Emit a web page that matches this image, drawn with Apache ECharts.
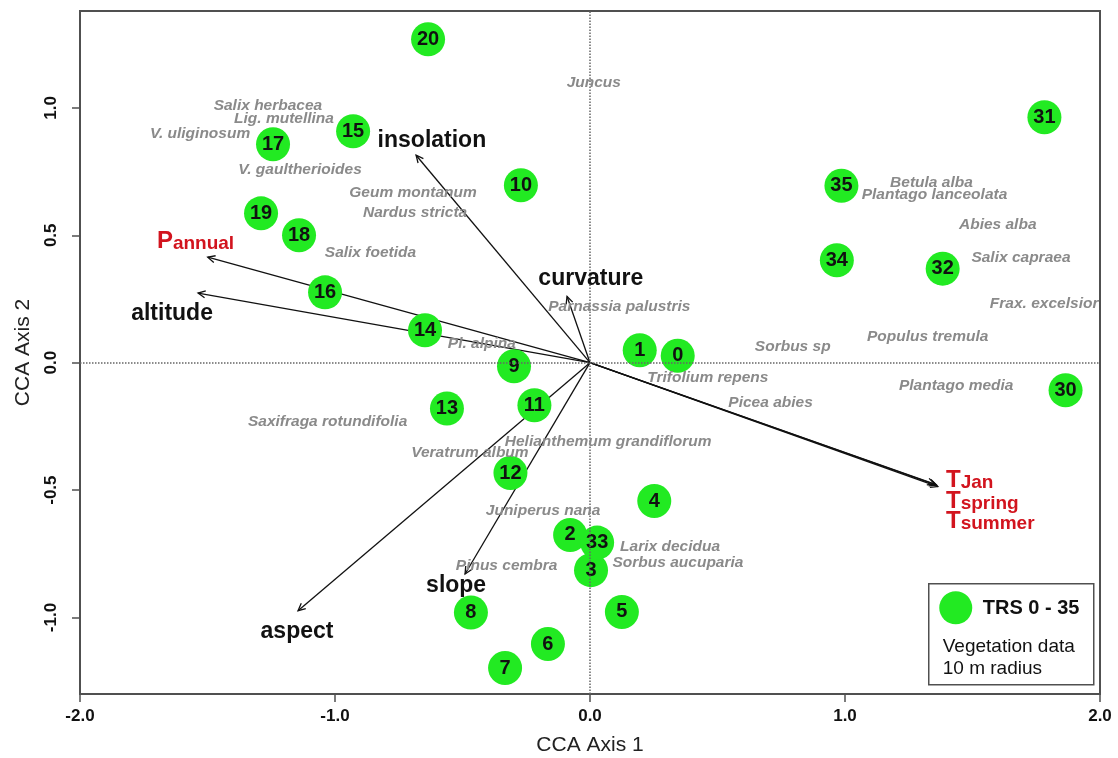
<!DOCTYPE html>
<html>
<head>
<meta charset="utf-8">
<script src="https://cdn.jsdelivr.net/npm/echarts@6/dist/echarts.min.js"></script>
<style>
  html, body { margin: 0; padding: 0; background: #fff; }
  #chart { width: 1118px; height: 758px; }
</style>
</head>
<body>
<div id="chart"></div>
<script>
// Site scores (TRS plots) on CCA axes 1 and 2
const siteIds = ['0','1','2','3','4','5','6','7','8','9','10','11','12','13','14','15','16','17','18','19','20','30','31','32','33','34','35'];
const siteAxis1 = [0.344, 0.195, -0.078, 0.004, 0.252, 0.125, -0.165, -0.333, -0.467, -0.298, -0.271, -0.218, -0.312, -0.561, -0.647, -0.929, -1.039, -1.243, -1.141, -1.290, -0.635, 1.865, 1.782, 1.383, 0.028, 0.968, 0.986];
const siteAxis2 = [0.027, 0.049, -0.676, -0.814, -0.543, -0.978, -1.104, -1.198, -0.980, -0.014, 0.696, -0.167, -0.433, -0.180, 0.127, 0.908, 0.276, 0.857, 0.500, 0.586, 1.269, -0.108, 0.963, 0.369, -0.706, 0.402, 0.694];

// Species scores
const speciesNames = ['Juncus', 'Salix herbacea', 'Lig. mutellina', 'V. uliginosum', 'V. gaultherioides', 'Geum montanum', 'Nardus stricta', 'Salix foetida', 'Parnassia palustris', 'Pl. alpina', 'Trifolium repens', 'Sorbus sp', 'Populus tremula', 'Plantago media', 'Picea abies', 'Saxifraga rotundifolia', 'Helianthemum grandiflorum', 'Veratrum album', 'Juniperus nana', 'Larix decidua', 'Sorbus aucuparia', 'Pinus cembra', 'Betula alba', 'Plantago lanceolata', 'Abies alba', 'Salix capraea', 'Frax. excelsior'];
const speciesAxis1 = [0.015, -1.263, -1.200, -1.529, -1.137, -0.694, -0.686, -0.861, 0.115, -0.424, 0.462, 0.795, 1.324, 1.436, 0.708, -1.029, 0.071, -0.471, -0.184, 0.314, 0.345, -0.327, 1.339, 1.351, 1.599, 1.690, 1.781];
const speciesAxis2 = [1.100, 1.010, 0.957, 0.900, 0.759, 0.668, 0.590, 0.433, 0.218, 0.076, -0.057, 0.061, 0.100, -0.092, -0.159, -0.232, -0.312, -0.354, -0.582, -0.724, -0.786, -0.797, 0.708, 0.661, 0.543, 0.410, 0.233];

// Environmental variables: arrow tips and label anchors
const envNames = ['insolation', 'curvature', 'Pannual', 'altitude', 'aspect', 'slope', 'TJan', 'Tspring', 'Tsummer'];
const envAxis1 = [-0.682, -0.090, -1.499, -1.537, -1.145, -0.490, 1.359, 1.352, 1.364];
const envAxis2 = [0.814, 0.260, 0.414, 0.273, -0.973, -0.829, -0.480, -0.476, -0.486];
const envLabelAxis1 = [-0.620, 0.003, -1.547, -1.639, -1.149, -0.525, 1.396, 1.396, 1.396];
const envLabelAxis2 = [0.873, 0.331, 0.476, 0.194, -1.057, -0.873, -0.460, -0.543, -0.624];

// Axis ticks
const xTicks = [-2, -1, 0, 1, 2];
const yTicks = [-1, -0.5, 0, 0.5, 1];

const FONT = 'Arial, "Liberation Sans", Helvetica, sans-serif';
const GREEN = '#22ea22';
const RED = '#d2141e';
const GRAY = '#8a8a8a';
const AXIS = '#505050';

const chart = echarts.init(document.getElementById('chart'), null, { renderer: 'canvas' });

const siteData = siteAxis1.map((x, i) => [x, siteAxis2[i], siteIds[i]]);
const speciesData = speciesAxis1.map((x, i) => [x, speciesAxis2[i], i]);
const envArrowData = envAxis1.map((x, i) => [x, envAxis2[i]]);
const envLabelData = envLabelAxis1.map((x, i) => [x, envLabelAxis2[i], i]);

// red climate variables are written as a large initial + smaller remainder
const redVars = new Set(['Pannual', 'TJan', 'Tspring', 'Tsummer']);

function arrowItem(params, api) {
  const o = api.coord([0, 0]);
  const t = api.coord([api.value(0), api.value(1)]);
  const ang = Math.atan2(t[1] - o[1], t[0] - o[0]);
  const L = 8, a = Math.PI / 7;
  const p1 = [t[0] - L * Math.cos(ang - a), t[1] - L * Math.sin(ang - a)];
  const p2 = [t[0] - L * Math.cos(ang + a), t[1] - L * Math.sin(ang + a)];
  return {
    type: 'group',
    children: [
      { type: 'line', shape: { x1: o[0], y1: o[1], x2: t[0], y2: t[1] },
        style: { stroke: '#111', lineWidth: 1.3 } },
      { type: 'polyline', shape: { points: [p1, t, p2] },
        style: { stroke: '#111', lineWidth: 1.3, fill: null } }
    ]
  };
}

function speciesItem(params, api) {
  const p = api.coord([api.value(0), api.value(1)]);
  return {
    type: 'text', x: p[0], y: p[1],
    style: {
      text: speciesNames[api.value(2)],
      fontFamily: FONT, fontSize: 15.5, fontWeight: 'bold', fontStyle: 'italic',
      fill: GRAY, align: 'center', verticalAlign: 'middle'
    }
  };
}

function envLabelItem(params, api) {
  const p = api.coord([api.value(0), api.value(1)]);
  const name = envNames[api.value(2)];
  if (redVars.has(name)) {
    return {
      type: 'text', x: p[0], y: p[1],
      style: {
        text: '{b|' + name.charAt(0) + '}{s|' + name.slice(1) + '}',
        align: name === 'Pannual' ? 'center' : 'left',
        verticalAlign: 'middle',
        rich: {
          b: { fontFamily: FONT, fontSize: 24, fontWeight: 'bold', fill: RED, color: RED, verticalAlign: 'bottom', lineHeight: 24 },
          s: { fontFamily: FONT, fontSize: 19, fontWeight: 'bold', fill: RED, color: RED, verticalAlign: 'bottom', lineHeight: 24 }
        }
      }
    };
  }
  return {
    type: 'text', x: p[0], y: p[1],
    style: {
      text: name, fontFamily: FONT, fontSize: 23, fontWeight: 'bold',
      fill: '#111', align: 'center', verticalAlign: 'middle'
    }
  };
}

const option = {
  animation: false,
  backgroundColor: '#fff',
  grid: {
    left: 80, right: 18, top: 11, bottom: 64,
    outerBoundsMode: 'none', containLabel: false,
    show: true, borderColor: AXIS, borderWidth: 2, backgroundColor: 'transparent'
  },
  xAxis: {
    type: 'value', min: -2, max: 2, interval: 1,
    axisLine: { show: true, onZero: false, lineStyle: { color: AXIS, width: 2 } },
    axisTick: { show: true, inside: false, length: 8, lineStyle: { color: AXIS, width: 1.5 } },
    axisLabel: {
      showMinLabel: true, showMaxLabel: true, margin: 14,
      formatter: v => v.toFixed(1),
      fontFamily: FONT, fontSize: 17, fontWeight: 'bold', color: '#111'
    },
    splitLine: { show: false },
    name: 'CCA Axis 1', nameLocation: 'middle', nameGap: 41,
    nameTextStyle: { fontFamily: FONT, fontSize: 21, color: '#222' }
  },
  yAxis: {
    type: 'value', min: -1.30, max: 1.38,
    axisLine: { show: true, onZero: false, lineStyle: { color: AXIS, width: 2 } },
    axisTick: { show: true, inside: false, length: 8, customValues: yTicks, lineStyle: { color: AXIS, width: 1.5 } },
    axisLabel: {
      customValues: yTicks, rotate: 90, margin: 20,
      formatter: v => v.toFixed(1),
      fontFamily: FONT, fontSize: 17, fontWeight: 'bold', color: '#111'
    },
    splitLine: { show: false },
    name: 'CCA Axis 2', nameLocation: 'middle', nameGap: 46,
    nameTextStyle: { fontFamily: FONT, fontSize: 21, color: '#222' }
  },
  series: [
    {
      // dotted reference lines through the origin
      type: 'scatter', data: [], silent: true,
      markLine: {
        silent: true, symbol: 'none', animation: false,
        label: { show: false },
        lineStyle: { type: 'dotted', color: '#666', width: 1.5 },
        data: [{ xAxis: 0 }, { yAxis: 0 }]
      }
    },
    {
      type: 'custom', name: 'environment', data: envArrowData,
      renderItem: arrowItem, silent: true, z: 3
    },
    {
      type: 'scatter', name: 'TRS', data: siteData, z: 4,
      symbol: 'circle', symbolSize: 34,
      itemStyle: { color: GREEN, opacity: 1 },
      label: {
        show: true, position: 'inside', formatter: p => p.value[2],
        fontFamily: FONT, fontSize: 20, fontWeight: 'bold', color: '#111'
      },
      emphasis: { disabled: true }
    },
    {
      type: 'custom', name: 'species', data: speciesData,
      renderItem: speciesItem, silent: true, z: 5
    },
    {
      type: 'custom', name: 'environment labels', data: envLabelData,
      renderItem: envLabelItem, silent: true, z: 6
    }
  ],
  graphic: [
    {
      type: 'group', left: 928, top: 583, z: 10,
      children: [
        { type: 'rect', shape: { x: 0, y: 0, width: 165, height: 101 },
          style: { fill: '#fff', stroke: AXIS, lineWidth: 1.5 } },
        { type: 'circle', shape: { cx: 27, cy: 24, r: 16.5 }, style: { fill: GREEN } },
        { type: 'text', x: 54, y: 25,
          style: { text: 'TRS 0 - 35', fontFamily: FONT, fontSize: 20, fontWeight: 'bold', fill: '#111', verticalAlign: 'middle' } },
        { type: 'text', x: 14, y: 63,
          style: { text: 'Vegetation data', fontFamily: FONT, fontSize: 19, fill: '#111', verticalAlign: 'middle' } },
        { type: 'text', x: 14, y: 85,
          style: { text: '10 m radius', fontFamily: FONT, fontSize: 19, fill: '#111', verticalAlign: 'middle' } }
      ]
    }
  ]
};

chart.setOption(option);
</script>
</body>
</html>
